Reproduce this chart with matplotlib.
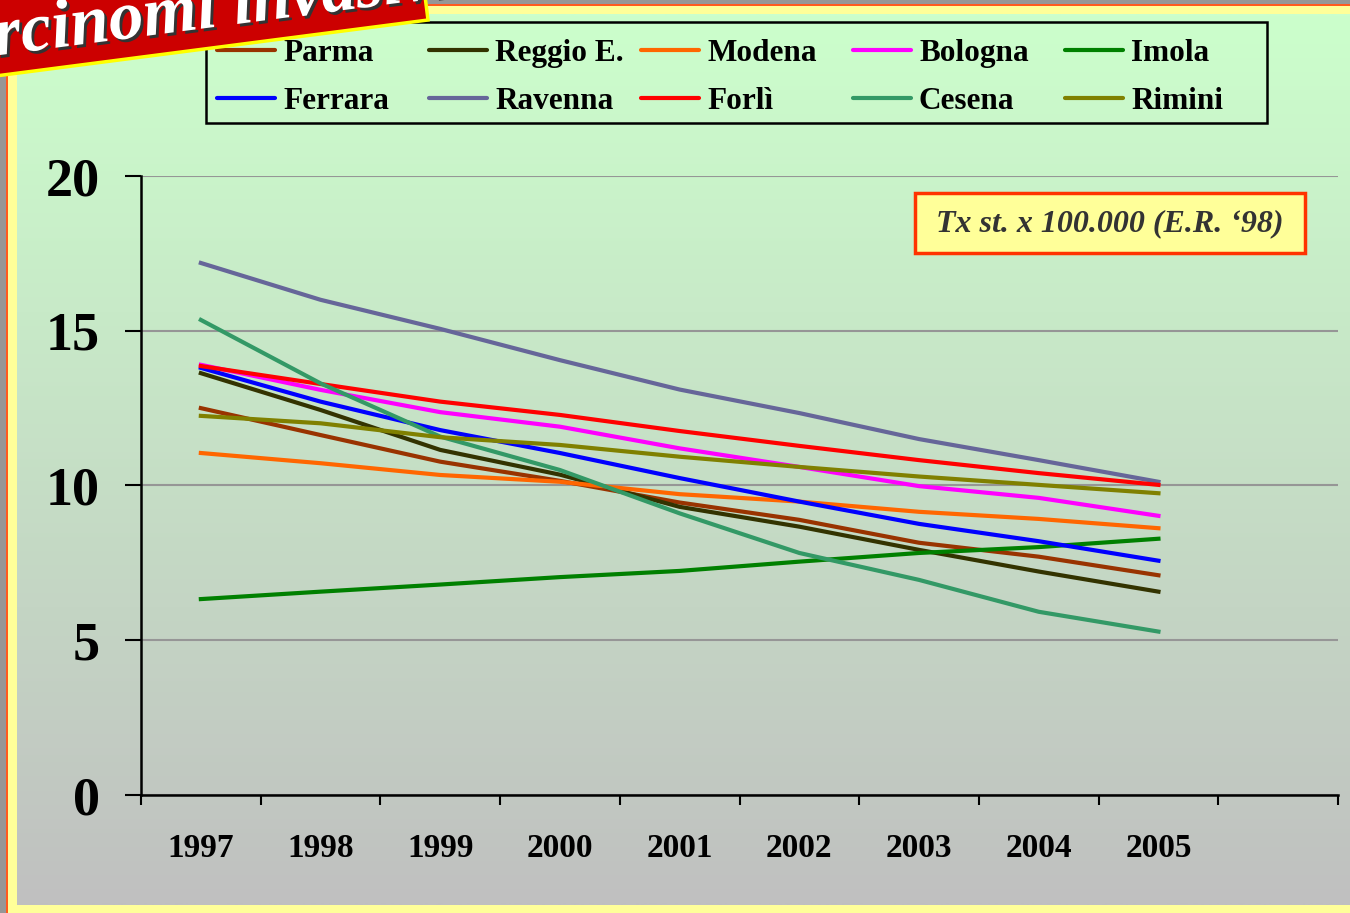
import matplotlib.pyplot as plt
import matplotlib.patheffects as pe
import numpy as np
from matplotlib.patches import Polygon, Rectangle

years = ["1997", "1998", "1999", "2000", "2001", "2002", "2003", "2004", "2005"]

parma = [12.5, 11.63, 10.77, 10.15, 9.45, 8.89, 8.15, 7.7, 7.1]
reggio = [13.63, 12.44, 11.15, 10.35, 9.31, 8.67, 7.92, 7.22, 6.57]
modena = [11.05, 10.72, 10.34, 10.12, 9.72, 9.48, 9.15, 8.92, 8.62]
bologna = [13.9, 13.09, 12.37, 11.9, 11.2, 10.6, 9.98, 9.6, 9.02]
imola = [6.33, 6.57, 6.8, 7.04, 7.24, 7.54, 7.82, 8.01, 8.28]
ferrara = [13.8, 12.71, 11.79, 11.05, 10.24, 9.48, 8.76, 8.2, 7.57]
ravenna = [17.19, 16.0, 15.06, 14.05, 13.1, 12.34, 11.5, 10.82, 10.12]
forli = [13.86, 13.28, 12.71, 12.28, 11.76, 11.28, 10.82, 10.4, 10.02]
cesena = [15.35, 13.3, 11.58, 10.5, 9.1, 7.82, 6.95, 5.92, 5.28]
rimini = [12.25, 12.01, 11.56, 11.31, 10.93, 10.6, 10.29, 10.02, 9.75]

names = ["Parma", "Reggio E.", "Modena", "Bologna", "Imola",
         "Ferrara", "Ravenna", "Forlì", "Cesena", "Rimini"]
series = [parma, reggio, modena, bologna, imola,
          ferrara, ravenna, forli, cesena, rimini]
colors = ["#993300", "#333300", "#ff6600", "#ff00ff", "#008000",
          "#0000ff", "#666699", "#ff0000", "#339966", "#808000"]

W, H = 1350, 913
SERIF = "Liberation Serif"

fig = plt.figure(figsize=(W / 100, H / 100), dpi=100)

# background: gradient panel with yellow / orange / grey frame
bg = fig.add_axes([0, 0, 1, 1], zorder=-5)
bg.set_xlim(0, W)
bg.set_ylim(H, 0)
bg.axis("off")
top = np.array([204, 255, 204]) / 255
bottom = np.array([192, 192, 192]) / 255
t = np.linspace(0, 1, 256)[:, None, None]
grad = top * (1 - t) + bottom * t
grad = np.repeat(grad, 2, axis=1)
bg.imshow(grad, extent=(17, W, 905, 14), aspect="auto", interpolation="bilinear")
bg.add_patch(Rectangle((0, 0), W, 4, color="#969696", lw=0))
bg.add_patch(Rectangle((0, 0), 6, H, color="#969696", lw=0))
bg.add_patch(Rectangle((6, 4), W, 2, color="#ff5a1e", lw=0))
bg.add_patch(Rectangle((6, 4), 2, H, color="#ff5a1e", lw=0))
bg.add_patch(Rectangle((8, 6), W, 8, color="#ffff99", lw=0))
bg.add_patch(Rectangle((8, 6), 9, H, color="#ffff99", lw=0))
bg.add_patch(Rectangle((8, 905), W, 8, color="#ffff99", lw=0))

# main plot area
ax = fig.add_axes([141 / W, 1 - 795 / H, (1338 - 141) / W, (795 - 176) / H])
ax.set_facecolor("none")
x = np.arange(len(years))
for name, values, color in zip(names, series, colors):
    ax.plot(x, values, color=color, linewidth=3, label=name, zorder=3)

ax.set_xlim(-0.5, 9.5)
ax.set_ylim(0, 20)
ax.set_yticks([0, 5, 10, 15, 20])
ax.set_xticks(np.arange(-0.5, 10, 1))
ax.set_xticklabels([])
ax.set_xticks(x, minor=True)
ax.set_xticklabels(years, minor=True)
ax.tick_params(axis="x", which="major", length=7, width=1.5, color="black")
ax.tick_params(axis="x", which="minor", length=0, pad=27)
ax.tick_params(axis="y", length=11.5, width=1.5, pad=18)
for label in ax.get_xticklabels(minor=True):
    label.set_fontfamily(SERIF)
    label.set_fontweight("bold")
    label.set_fontsize(24)
for label in ax.get_yticklabels():
    label.set_fontfamily(SERIF)
    label.set_fontweight("bold")
    label.set_fontsize(39)
ax.yaxis.grid(True, color="#969696", linewidth=1.5)
ax.set_axisbelow(True)
for side in ["top", "right"]:
    ax.spines[side].set_visible(False)
for side in ["left", "bottom"]:
    ax.spines[side].set_linewidth(1.8)

# overlay: legend, note box, banner (pixel coordinates)
ov = fig.add_axes([0, 0, 1, 1], zorder=5)
ov.set_xlim(0, W)
ov.set_ylim(H, 0)
ov.axis("off")

ov.add_patch(Rectangle((206, 22), 1061, 101, facecolor="none",
                       edgecolor="black", lw=1.8))
for i, (name, color) in enumerate(zip(names, colors)):
    row, col = divmod(i, 5)
    x0 = 217 + col * 212
    y0 = 50 + row * 48
    ov.plot([x0, x0 + 58], [y0, y0], color=color, lw=3, solid_capstyle="round")
    ov.text(x0 + 66, y0, name, fontfamily=SERIF, fontweight="bold",
            fontsize=22.5, va="center_baseline", ha="left")

ov.add_patch(Rectangle((915, 193), 390, 60, facecolor="#ffff99",
                       edgecolor="#ff3300", lw=2.5))
ov.text(1110, 224, "Tx st. x 100.000 (E.R. \u201898)", fontfamily=SERIF,
        fontweight="bold", fontstyle="italic", fontsize=23, color="#333333",
        ha="center", va="center")

angle = np.degrees(np.arctan2(76 - 20, 428))
ov.add_patch(Polygon([(-20, 78), (428, 20), (418, -60), (-30, 0)],
                     closed=True, facecolor="#cc0000", edgecolor="#ffff00",
                     lw=2.5, zorder=6))
ov.text(-84, 66, "Carcinomi invasivi", fontfamily=SERIF, fontweight="bold",
        fontstyle="italic", fontsize=50, color="white", rotation=angle,
        rotation_mode="anchor", ha="left", va="baseline", zorder=7,
        path_effects=[pe.withSimplePatchShadow(offset=(2, -2),
                                               shadow_rgbFace="#333333",
                                               alpha=1)])

fig.savefig("out.png", dpi=100)
